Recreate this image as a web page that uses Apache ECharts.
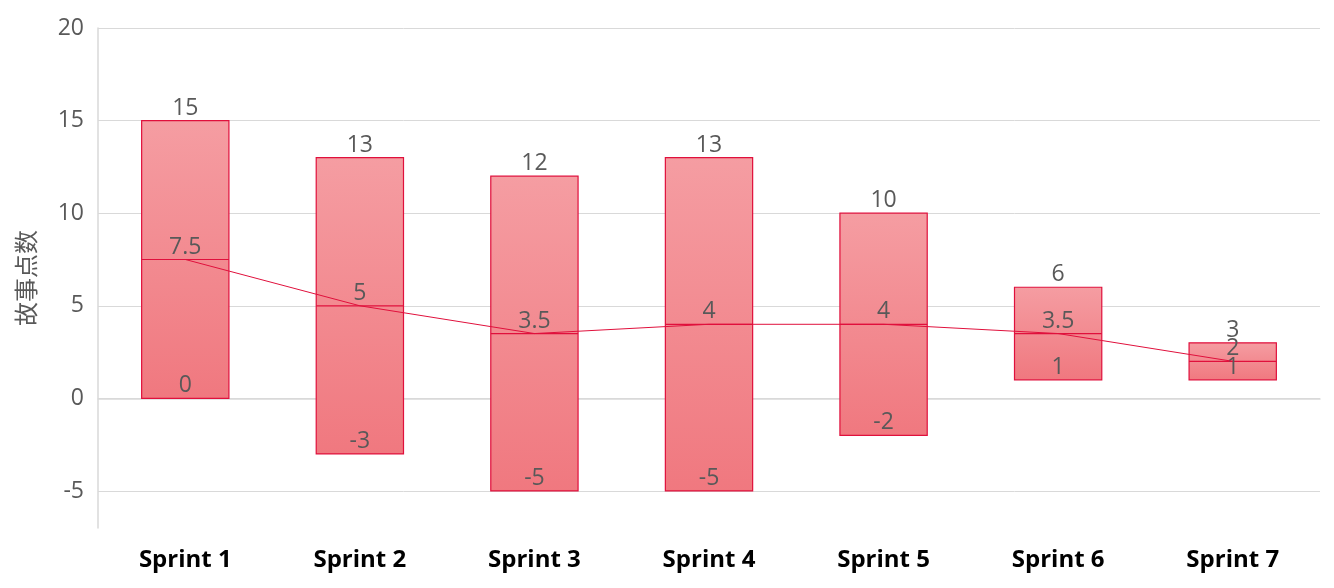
<!DOCTYPE html>
<html><head><meta charset="utf-8">
<script src="https://cdn.jsdelivr.net/npm/echarts@6/dist/echarts.min.js"></script>
<style>html,body{margin:0;padding:0;background:#fff}#c{width:1334px;height:588px}</style>
</head><body><div id="c"></div>
<script>
const categories = ['Sprint 1','Sprint 2','Sprint 3','Sprint 4','Sprint 5','Sprint 6','Sprint 7'];
const lowValues  = [0, -3, -5, -5, -2, 1, 1];
const midValues  = [7.5, 5, 3.5, 4, 4, 3.5, 2];
const highValues = [15, 13, 12, 13, 10, 6, 3];
const yTicks = [-5, 0, 5, 10, 15, 20];

const FONT = '"Open Sans","Noto Sans",sans-serif';
const TXT = '#595959';
const RED = '#e0103c';

const chart = echarts.init(document.getElementById('c'));
const boxData = categories.map((c, i) => [i, lowValues[i], midValues[i], highValues[i]]);

chart.setOption({
  animation: false,
  grid: {left: 98, right: 14, top: 28, bottom: 60},
  xAxis: {
    type: 'category', data: categories,
    axisLine: {lineStyle: {color: '#d9d9d9', width: 1.5}},
    axisTick: {show: false},
    axisLabel: {color: '#000', fontWeight: 'bold', fontSize: 24, fontFamily: FONT, margin: 20}
  },
  yAxis: {
    type: 'value', min: -7, max: 20,
    name: '故事点数', nameLocation: 'middle', nameGap: 60,
    nameTextStyle: {color: TXT, fontSize: 24, fontFamily: '"Noto Sans CJK SC",sans-serif'},
    axisLine: {show: true, lineStyle: {color: '#d9d9d9', width: 1.5}},
    axisTick: {show: false, customValues: yTicks},
    axisLabel: {customValues: yTicks, color: TXT, fontSize: 23, fontFamily: FONT, margin: 14},
    splitLine: {show: true, lineStyle: {color: '#d9d9d9', width: 1}}
  },
  series: [
    {
      type: 'custom',
      data: boxData,
      encode: {x: 0, y: [1, 2, 3]},
      renderItem: function (params, api) {
        const i = api.value(0);
        const lo = api.coord([i, api.value(1)]);
        const mid = api.coord([i, api.value(2)]);
        const hi = api.coord([i, api.value(3)]);
        const w = api.size([1, 0])[0] * 0.5;
        const x0 = lo[0] - w / 2;
        const ts = (txt, y, va) => ({
          type: 'text', z2: 10,
          style: {text: txt, x: lo[0], y: y, align: 'center', verticalAlign: va,
            fill: TXT, fontSize: 23, fontFamily: FONT}
        });
        return {
          type: 'group',
          children: [
            {type: 'rect', shape: {x: x0, y: hi[1], width: w, height: lo[1] - hi[1]},
              style: {fill: {type: 'linear', x: 0, y: 0, x2: 0, y2: 1,
                colorStops: [{offset: 0, color: '#f59da2'}, {offset: 1, color: '#f0787f'}]},
                stroke: RED, lineWidth: 1.2}},
            {type: 'line', shape: {x1: x0, y1: mid[1], x2: x0 + w, y2: mid[1]},
              style: {stroke: RED, lineWidth: 1.2}},
            ts(String(api.value(3)), hi[1] - 1, 'bottom'),
            ts(String(api.value(2)), mid[1] - 1, 'bottom'),
            ts(String(api.value(1)), lo[1] - 1, 'bottom')
          ]
        };
      }
    },
    {
      type: 'line', data: midValues, symbol: 'none', z: 5,
      lineStyle: {color: RED, width: 1}
    }
  ]
});
</script></body></html>
